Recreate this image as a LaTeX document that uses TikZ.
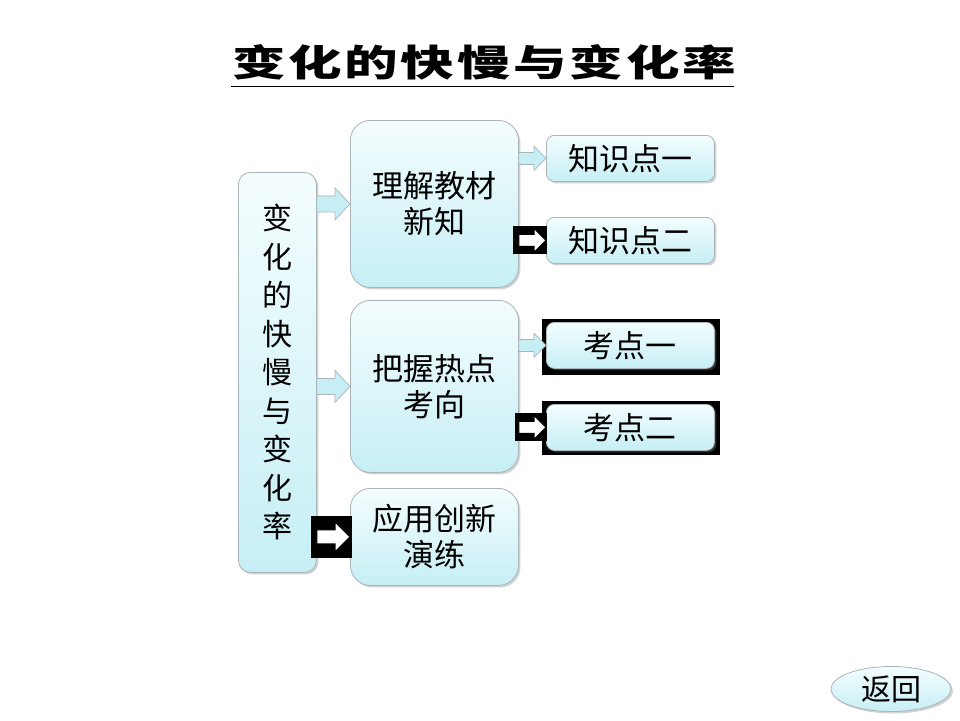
\documentclass[tikz,border=0pt]{standalone}
\usepackage{fontspec}
\newfontfamily\cjk{Noto Sans CJK SC}
\usetikzlibrary{shadows,calc,shapes.geometric}
\definecolor{boxtop}{RGB}{244,253,254}
\definecolor{boxbot}{RGB}{198,239,245}
\definecolor{edge}{RGB}{170,180,185}
\tikzset{
  box/.style={draw=edge, line width=0.8pt, top color=boxtop, bottom color=boxbot,
    drop shadow={opacity=0.35, shadow xshift=2pt, shadow yshift=-2pt},
    anchor=north west, inner sep=0pt, align=center, font=\cjk\fontsize{31}{36}\selectfont},
  bigbox/.style={box, rounded corners=20pt, minimum width=168pt},
  smallbox/.style={box, rounded corners=8pt, minimum width=168pt, minimum height=46pt,
    font=\cjk\fontsize{31}{32}\selectfont},
  lightarr/.style={draw=edge, line width=0.7pt, fill=boxbot},
  darkarr/.style={draw=black, line width=1pt, fill=white},
}
% #1 start, #2 end, #3 shaft half height, #4 head half height, #5 head length, #6 style
\newcommand\blockarr[6]{%
  \path[#6] let \p1=(#1), \p2=(#2) in
    ({\x1},{\y2+#3}) -- ({\x2-#5},{\y2+#3}) -- ({\x2-#5},{\y2+#4}) -- ({\x2},{\y2})
    -- ({\x2-#5},{\y2-#4}) -- ({\x2-#5},{\y2-#3}) -- ({\x1},{\y2-#3}) -- cycle;}
\newcommand\blackbg[5]{%
  \fill[black] let \p1=(#1), \p2=(#2) in ({\x1-#3},{\y2+#4}) rectangle ({\x2+#5},{\y2-#4});}
\begin{document}
\begin{tikzpicture}[x=1pt,y=-1pt]
\useasboundingbox[fill=white] (0,0) rectangle (960,720);
% title
\node[font=\cjk\fontsize{40}{40}\selectfont\bfseries] (title) at (484,62)
  {\scalebox{1.34}[0.92]{\addfontfeature{LetterSpace=5}变化的快慢与变化率}};
\coordinate (ul1) at (231,86);
\coordinate (ul2) at (734,86);
\draw[line width=1pt] (ul1) -- (ul2);

% left box
\node[box, rounded corners=12pt, minimum width=78pt, minimum height=400pt,
  font=\cjk\fontsize{30}{38.5}\selectfont] (L) at (238,172)
  {变\\化\\的\\快\\慢\\与\\变\\化\\率};

% middle boxes
\node[bigbox, minimum height=167pt] (M1) at (350,120) {理解教材\\新知};
\node[bigbox, minimum height=172pt] (M2) at (350,300) {把握热点\\考向};
\node[bigbox, minimum height=97pt] (M3) at (350,488) {应用创新\\演练};

% small boxes
\node[smallbox] (S1) at (546,135) {知识点一};
\node[smallbox] (S2) at (546,217) {知识点二};
\fill[black] ($(546,322)+(-4pt,3pt)$) rectangle ($(714,370)+(6pt,-5pt)$);
\fill[black] ($(546,404)+(-4pt,3pt)$) rectangle ($(714,450)+(6pt,-5pt)$);
\node[smallbox] (S3) at (546,322) {考点一};
\node[smallbox] (S4) at (546,404) {考点二};

% return button
\node[ellipse, draw=edge, line width=0.8pt, top color=boxtop, bottom color=boxbot,
  drop shadow={opacity=0.35, shadow xshift=2pt, shadow yshift=-2pt},
  minimum width=120pt, minimum height=45pt, inner sep=0pt,
  font=\cjk\fontsize{30}{30}\selectfont] (back) at (891,689) {返回};

% arrows left -> middle
\blockarr{L.east |- M1.west}{M1.west}{8pt}{16pt}{15pt}{lightarr}
\blockarr{L.east |- M2.west}{M2.west}{8pt}{16pt}{15pt}{lightarr}
\blackbg{L.east |- M3.west}{M3.west}{6pt}{21pt}{2pt}
\blockarr{L.east |- M3.west}{M3.west}{7pt}{15pt}{15pt}{darkarr}

% arrows middle -> small
\blockarr{M1.east |- S1.west}{S1.west}{6pt}{12pt}{12pt}{lightarr}
\blackbg{M1.east |- S2.west}{S2.west}{6pt}{14pt}{1pt}
\blockarr{M1.east |- S2.west}{S2.west}{6pt}{12pt}{12pt}{darkarr}
\blockarr{M2.east |- S3.west}{S3.west}{6pt}{12pt}{12pt}{lightarr}
\blackbg{M2.east |- S4.west}{S4.west}{4pt}{14pt}{1pt}
\blockarr{M2.east |- S4.west}{S4.west}{6pt}{12pt}{12pt}{darkarr}
\end{tikzpicture}
\end{document}
